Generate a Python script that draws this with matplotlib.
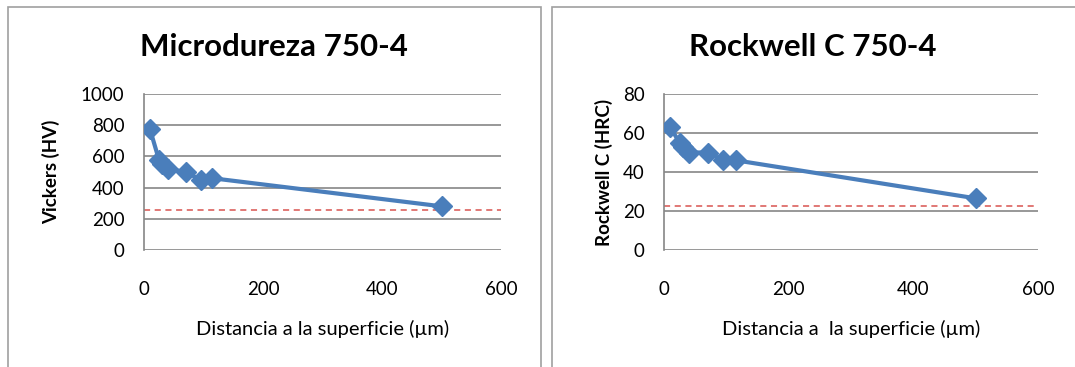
import matplotlib.pyplot as plt
from matplotlib.patches import Rectangle

plt.rcParams['font.family'] = ['Lato', 'DejaVu Sans']

# datos
dist = [10, 25, 30, 40, 70, 95, 115, 500]
vickers = [775, 580, 550, 520, 500, 450, 460, 280]
rockwell = [63, 55, 53, 50, 50, 46, 46, 26.5]
lim_hv = 255
lim_hrc = 22.5

titulos = ["Microdureza 750-4", "Rockwell C 750-4"]
eixoy = ["Vickers (HV)", "Rockwell C (HRC)"]
eixox = ["Distancia a la superficie (µm)", "Distancia a  la superficie (µm)"]

azul = "#4a7ebb"
cinza = "#868686"

fig = plt.figure(figsize=(10.75, 3.67), dpi=100)

# marcos de los graficos
fig.patches.append(Rectangle((8 / 1075, -0.1), 533 / 1075, 1.08, transform=fig.transFigure,
                             fill=False, edgecolor="#a0a0a0", linewidth=1.2))
fig.patches.append(Rectangle((552 / 1075, -0.1), 540 / 1075, 1.08, transform=fig.transFigure,
                             fill=False, edgecolor="#a0a0a0", linewidth=1.2))

ax1 = fig.add_axes([144 / 1075, 1 - 250 / 367, 357 / 1075, 156 / 367])
ax2 = fig.add_axes([664 / 1075, 1 - 250 / 367, 374 / 1075, 156 / 367])

datos = [(ax1, vickers, lim_hv, 1000, 200, 15, 274), (ax2, rockwell, lim_hrc, 80, 20, 7, 813)]

for i, (ax, y, lim, ymax, paso, lp, xt) in enumerate(datos):
    ax.plot(dist, y, color=azul, linewidth=3, marker="D", markersize=10, zorder=3)
    ax.axhline(lim, color="#d9534f", linestyle=(0, (4, 3)), linewidth=1.1, zorder=2)
    ax.set_xlim(0, 600)
    ax.set_ylim(0, ymax)
    ax.set_xticks([0, 200, 400, 600])
    ax.set_yticks(list(range(0, ymax + 1, paso)))
    ax.grid(axis="y", color=cinza, linewidth=1.2)
    ax.set_axisbelow(True)
    for s in ["top", "right", "bottom"]:
        ax.spines[s].set_visible(False)
    ax.spines["left"].set_color(cinza)
    ax.spines["left"].set_linewidth(1.2)
    ax.tick_params(length=0, labelsize=13.5)
    ax.tick_params(axis="x", pad=22)
    ax.tick_params(axis="y", pad=14)
    ax.set_xlabel(eixox[i], fontsize=14.5, labelpad=16)
    ax.set_ylabel(eixoy[i], fontsize=13.5, fontweight="bold", labelpad=lp)
    # titulo centrado en el marco del grafico
    fig.text(xt / 1075, 1 - 47 / 367, titulos[i], fontsize=22.5, fontweight="bold",
             ha="center", va="center")

plt.savefig("out.png", dpi=100)
